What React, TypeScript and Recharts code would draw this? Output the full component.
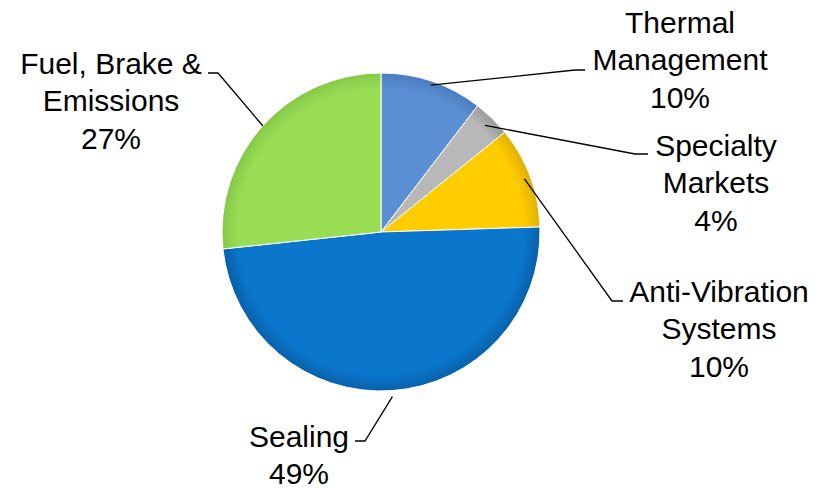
import React from 'react';
import { PieChart, Pie, Cell } from 'recharts';

const categories = ['Thermal Management', 'Specialty Markets', 'Anti-Vibration Systems', 'Sealing', 'Fuel, Brake & Emissions'];
const shares = [10.4, 3.8, 10.3, 48.8, 26.7];
const labelLines: string[][] = [
  ['Thermal', 'Management', '10%'],
  ['Specialty', 'Markets', '4%'],
  ['Anti-Vibration', 'Systems', '10%'],
  ['Sealing', '49%'],
  ['Fuel, Brake &', 'Emissions', '27%'],
];

const data = categories.map((name, i) => ({ name, value: shares[i] }));

const colors = ['#5A8FD3', '#B8B8B8', '#FFCC00', '#0A76CC', '#99DD55'];
const rims = ['#4A7DBF', '#9A9A9A', '#E0B000', '#0860A8', '#84C846'];

// label layout: text block centre, elbow point, horizontal end point
const labelText = [
  { x: 680, y: 22 },
  { x: 716, y: 145 },
  { x: 719, y: 291 },
  { x: 299, y: 436 },
  { x: 111, y: 63 },
];
const elbows = [
  { ex: 575, ey: 70, hx: 585 },
  { ex: 635, ey: 154, hx: 648 },
  { ex: 612, ey: 301, hx: 623 },
  { ex: 365, ey: 441, hx: 355 },
  { ex: 218, ey: 73, hx: 208 },
];
const anchorInset = [4, 10, 6, -6, 0];

const RAD = Math.PI / 180;
const FONT = '"Liberation Sans", Arial, sans-serif';
const FS = 30;
const LH = 37.5;
const CX = 381;
const CY = 232;
const R = 159;

const renderLabel = (props: any) => {
  const { cx, cy, midAngle, outerRadius, index } = props;
  const r = outerRadius - anchorInset[index];
  const ax = cx + r * Math.cos(-midAngle * RAD);
  const ay = cy + r * Math.sin(-midAngle * RAD);
  const e = elbows[index];
  const t = labelText[index];
  const lines = labelLines[index];
  return (
    <g key={`lbl-${index}`}>
      <polyline
        points={`${ax},${ay} ${e.ex},${e.ey} ${e.hx},${e.ey}`}
        fill="none"
        stroke="#000"
        strokeWidth={1.3}
      />
      {lines.map((ln, k) => (
        <text
          key={k}
          x={t.x}
          y={t.y + k * LH}
          textAnchor="middle"
          dominantBaseline="central"
          fontFamily={FONT}
          fontSize={FS}
          fill="#000"
        >
          {ln}
        </text>
      ))}
    </g>
  );
};

export default function App() {
  return (
    <div style={{ position: 'absolute', left: 0, top: 0, width: 824, height: 489, background: '#fff' }}>
      <PieChart width={824} height={489} margin={{ top: 0, right: 0, bottom: 0, left: 0 }}>
        <defs>
          {colors.map((c, i) => (
            <radialGradient key={i} id={`g${i}`} cx={CX} cy={CY} r={R} gradientUnits="userSpaceOnUse">
              <stop offset="0%" stopColor={c} />
              <stop offset="90%" stopColor={c} />
              <stop offset="100%" stopColor={rims[i]} />
            </radialGradient>
          ))}
        </defs>
        <Pie
          data={data}
          dataKey="value"
          nameKey="name"
          cx={CX}
          cy={CY}
          outerRadius={R}
          startAngle={90}
          endAngle={-270}
          stroke="#ffffff"
          strokeWidth={1}
          label={renderLabel}
          labelLine={false}
          isAnimationActive={false}
        >
          {data.map((d, i) => (
            <Cell key={d.name} fill={`url(#g${i})`} />
          ))}
        </Pie>
      </PieChart>
    </div>
  );
}
